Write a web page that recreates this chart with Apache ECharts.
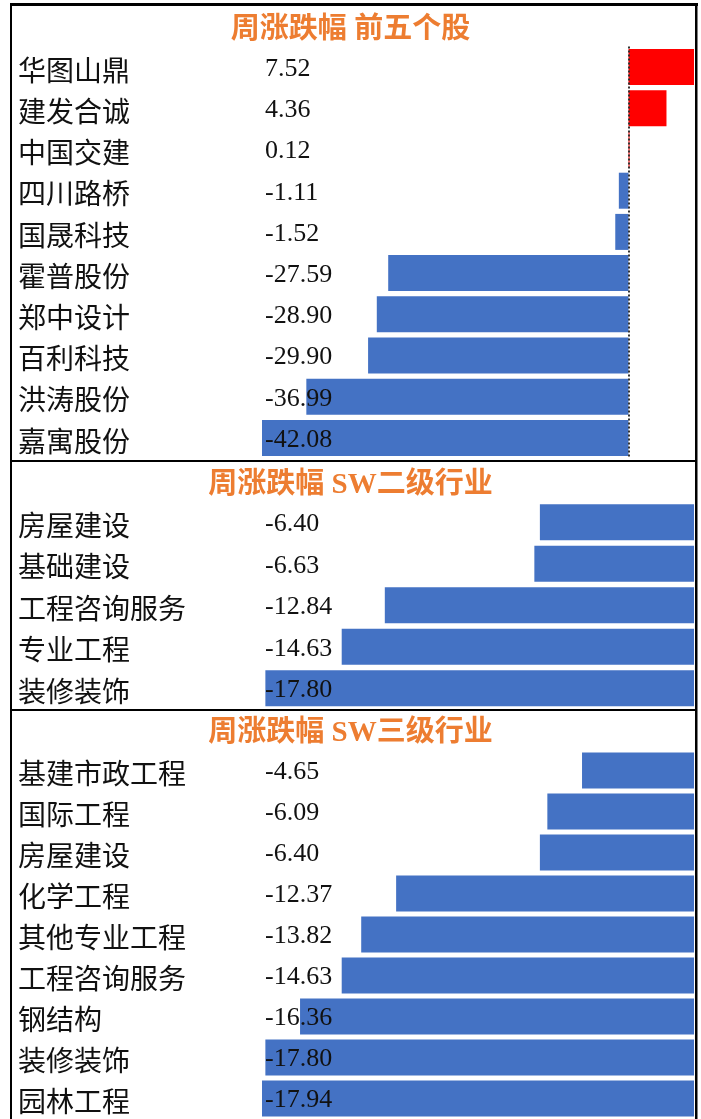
<!DOCTYPE html>
<html>
<head>
<meta charset="utf-8">
<script src="https://cdn.jsdelivr.net/npm/echarts@6/dist/echarts.min.js"></script>
<style>
html,body{margin:0;padding:0;background:#fff;}
#c{width:701px;height:1119px;}
</style>
</head>
<body>
<div id="c"></div>
<script>
// ---- data ----
const titles = ['周涨跌幅 前五个股', '周涨跌幅 SW二级行业', '周涨跌幅 SW三级行业'];
const stockNames = ['华图山鼎','建发合诚','中国交建','四川路桥','国晟科技','霍普股份','郑中设计','百利科技','洪涛股份','嘉寓股份'];
const stockChg = [7.52, 4.36, 0.12, -1.11, -1.52, -27.59, -28.90, -29.90, -36.99, -42.08];
const sw2Names = ['房屋建设','基础建设','工程咨询服务','专业工程','装修装饰'];
const sw2Chg = [-6.40, -6.63, -12.84, -14.63, -17.80];
const sw3Names = ['基建市政工程','国际工程','房屋建设','化学工程','其他专业工程','工程咨询服务','钢结构','装修装饰','园林工程'];
const sw3Chg = [-4.65, -6.09, -6.40, -12.37, -13.82, -14.63, -16.36, -17.80, -17.94];

// ---- styling ----
const CJK = "'Noto Sans CJK SC', sans-serif";
const SERIF = "'Liberation Serif', 'Noto Sans CJK SC', serif";
const BLUE = '#4472C4', RED = '#FF0000', ORANGE = '#ED7D31';

const sections = [
  {names: stockNames, vals: stockChg, top: 46.5, height: 412, min: Math.min(...stockChg), max: Math.max(...stockChg), titleTop: 16},
  {names: sw2Names, vals: sw2Chg, top: 501.5, height: 207.5, min: Math.min(...sw3Chg), max: 0, titleTop: 471},
  {names: sw3Names, vals: sw3Chg, top: 750, height: 373.5, min: Math.min(...sw3Chg), max: 0, titleTop: 719}
];

const GRID_LEFT = 262, GRID_RIGHT = 7;

const option = {
  animation: false,
  backgroundColor: '#fff',
  title: titles.map((t, i) => ({
    text: t, left: 'center', top: sections[i].titleTop, padding: 0,
    textStyle: {color: ORANGE, fontSize: 29, fontWeight: 'bold', fontFamily: SERIF}
  })),
  grid: sections.map(s => ({left: GRID_LEFT, right: GRID_RIGHT, top: s.top, height: s.height, containLabel: false})),
  xAxis: sections.map((s, i) => ({
    type: 'value', gridIndex: i, min: s.min, max: s.max, show: false
  })),
  yAxis: sections.map((s, i) => ({
    type: 'category', gridIndex: i, inverse: true, data: s.names, z: 10,
    axisLine: {show: false}, axisTick: {show: false}, splitLine: {show: false},
    axisLabel: {
      interval: 0, align: 'left', margin: GRID_LEFT - 18,
      formatter: (v, idx) => '{n|' + v + '}{v|' + s.vals[idx].toFixed(2) + '}',
      rich: {
        n: {width: 247, fontFamily: CJK, fontSize: 28, color: '#111', padding: [6, 0, 0, 0]},
        v: {fontFamily: SERIF, fontSize: 26, color: '#111', padding: [4, 0, 0, 0]}
      }
    }
  })),
  series: sections.map((s, i) => {
    const ser = {
      type: 'bar', xAxisIndex: i, yAxisIndex: i, data: s.vals, barWidth: 36,
      itemStyle: {color: p => (p.value >= 0 ? RED : BLUE)}
    };
    if (i === 0) {
      ser.markLine = {
        silent: true, symbol: 'none', label: {show: false},
        lineStyle: {color: '#333', type: [2, 2], width: 2},
        data: [{xAxis: 0}]
      };
    }
    return ser;
  }),
  graphic: [
    {type: 'rect', shape: {x: 10, y: 3, width: 688, height: 3}, style: {fill: '#000'}, z: 100},
    {type: 'rect', shape: {x: 10, y: 3, width: 2, height: 1116}, style: {fill: '#000'}, z: 100},
    {type: 'rect', shape: {x: 695, y: 3, width: 2.5, height: 1116}, style: {fill: '#000'}, z: 100},
    {type: 'rect', shape: {x: 10, y: 460, width: 687, height: 2}, style: {fill: '#000'}, z: 100},
    {type: 'rect', shape: {x: 10, y: 709, width: 687, height: 2}, style: {fill: '#000'}, z: 100}
  ]
};

const chart = echarts.init(document.getElementById('c'), null, {renderer: 'canvas'});
chart.setOption(option);
</script>
</body>
</html>
